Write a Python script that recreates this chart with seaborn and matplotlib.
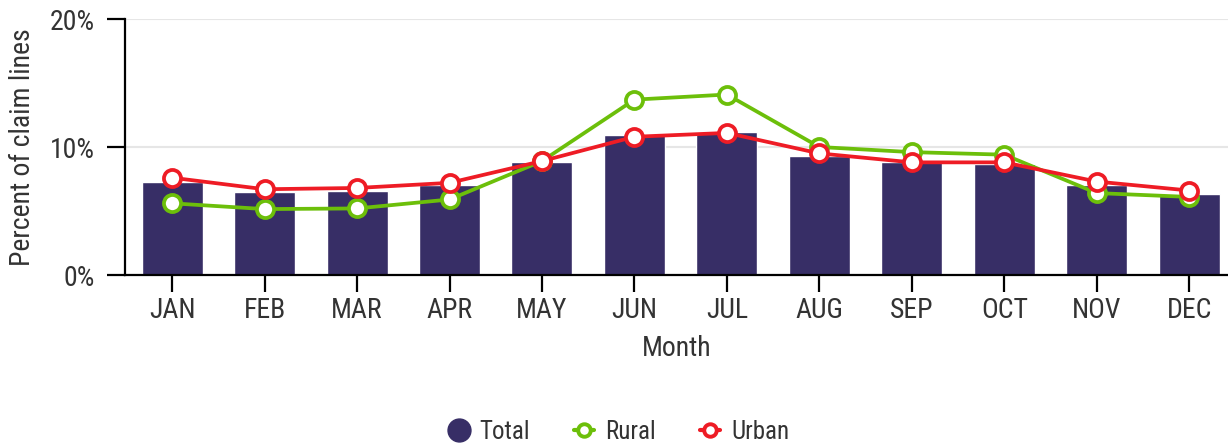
import matplotlib
matplotlib.use("Agg")
import matplotlib.pyplot as plt
from matplotlib import font_manager
from matplotlib.lines import Line2D
from matplotlib.ticker import FuncFormatter
import seaborn as sns
import pandas as pd

months = ["JAN", "FEB", "MAR", "APR", "MAY", "JUN", "JUL", "AUG", "SEP", "OCT", "NOV", "DEC"]
total = [7.3, 6.5, 6.6, 7.0, 8.8, 10.9, 11.2, 9.3, 8.85, 8.65, 7.0, 6.3]
rural = [5.6, 5.15, 5.2, 5.9, 8.9, 13.7, 14.1, 10.0, 9.6, 9.4, 6.4, 6.1]
urban = [7.6, 6.7, 6.8, 7.2, 8.9, 10.8, 11.1, 9.5, 8.8, 8.8, 7.3, 6.6]

C_TOTAL = "#372e66"
C_RURAL = "#6cbf0a"
C_URBAN = "#ee1c25"
TXT = "#333333"

df = pd.DataFrame({"Month": months, "Total": total, "Rural": rural, "Urban": urban})

sns.set_theme(style="white")
names = {f.name for f in font_manager.fontManager.ttflist}
if "Roboto Condensed" in names:
    FAM = ["Roboto Condensed", "DejaVu Sans"]
    SC = 1.0
else:
    FAM = ["Roboto", "DejaVu Sans"]
    SC = 0.88
plt.rcParams["font.family"] = FAM

fig = plt.figure(figsize=(12.28, 4.45), dpi=100)
ax = fig.add_axes([125 / 1228, 1 - 275 / 445, 1 - 125 / 1228, (275 - 19) / 445])

ax.yaxis.grid(True, color="#e6e6e6", linewidth=1.5, zorder=0)
ax.set_axisbelow(True)

sns.barplot(data=df, x="Month", y="Total", color=C_TOTAL, width=0.66,
            saturation=1, ax=ax, zorder=2)

for col, c in [("Rural", C_RURAL), ("Urban", C_URBAN)]:
    sns.pointplot(data=df, x="Month", y=col, color=c, ax=ax, markers="o",
                  markersize=12.3, markerfacecolor="white", markeredgecolor=c,
                  markeredgewidth=2.7, linewidth=2.7, zorder=3)

ax.set_xlim(-0.51, 11.42)
ax.set_ylim(0, 20)
ax.set_yticks([0, 10, 20])
ax.yaxis.set_major_formatter(FuncFormatter(lambda v, p: f"{v:.0f}%"))

for s in ["top", "right"]:
    ax.spines[s].set_visible(False)
for s in ["left", "bottom"]:
    ax.spines[s].set_color("black")
    ax.spines[s].set_linewidth(1.6)

ax.tick_params(axis="y", length=13, width=1.6, color="black", labelsize=20 * SC,
               labelcolor=TXT, pad=9, left=True)
ax.tick_params(axis="x", length=12.5, width=1.6, color="black", labelsize=20 * SC,
               labelcolor=TXT, pad=3, bottom=True)

ax.set_xlabel("Month", fontsize=20 * SC, color=TXT, labelpad=8)
ax.set_ylabel("Percent of claim lines", fontsize=20 * SC, color=TXT, labelpad=9.5)

handles = [
    Line2D([], [], linestyle="none", marker="o", markersize=16.5,
           markerfacecolor=C_TOTAL, markeredgecolor=C_TOTAL),
    Line2D([], [], color=C_RURAL, linewidth=3, marker="o", markersize=9,
           markerfacecolor="white", markeredgecolor=C_RURAL, markeredgewidth=2.8),
    Line2D([], [], color=C_URBAN, linewidth=3, marker="o", markersize=9,
           markerfacecolor="white", markeredgecolor=C_URBAN, markeredgewidth=2.8),
]
fig.legend(handles, ["Total", "Rural", "Urban"], loc="center",
           bbox_to_anchor=(0.504, 1 - 432 / 445), ncol=3, frameon=False,
           fontsize=18 * SC, labelcolor=TXT, handlelength=0.8, handletextpad=0.45,
           columnspacing=1.75)

fig.savefig("out.png", dpi=100)
